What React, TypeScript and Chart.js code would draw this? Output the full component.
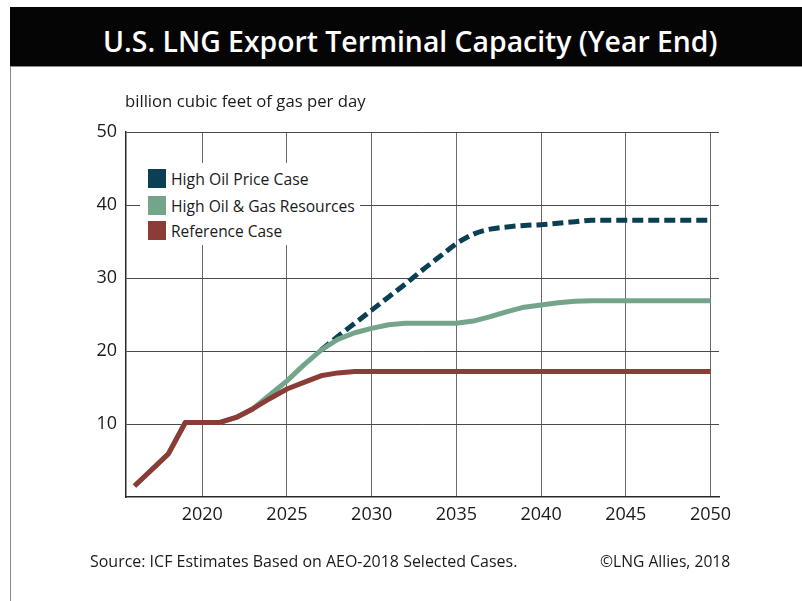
import React, { useEffect, useLayoutEffect, useRef, useState } from "react";
import { Chart, registerables } from "chart.js";

Chart.register(...registerables);

// ---------- DATA ----------
const YEARS = [
  2016, 2017, 2018, 2019, 2020, 2021, 2022, 2023, 2024, 2025, 2026, 2027,
  2028, 2029, 2030, 2031, 2032, 2033, 2034, 2035, 2036, 2037, 2038, 2039,
  2040, 2041, 2042, 2043, 2044, 2045, 2046, 2047, 2048, 2049, 2050,
];
const REFERENCE_CASE = [
  1.5, 3.7, 5.9, 10.2, 10.2, 10.2, 10.9, 12.1, 13.5, 14.8, 15.7, 16.6,
  17.0, 17.2, 17.2, 17.2, 17.2, 17.2, 17.2, 17.2, 17.2, 17.2, 17.2, 17.2,
  17.2, 17.2, 17.2, 17.2, 17.2, 17.2, 17.2, 17.2, 17.2, 17.2, 17.2,
];
const HIGH_OIL_GAS_RESOURCES = [
  1.5, 3.7, 5.9, 10.2, 10.2, 10.2, 10.9, 12.1, 14.0, 15.9, 18.1, 20.1,
  21.6, 22.5, 23.1, 23.6, 23.8, 23.8, 23.8, 23.8, 24.1, 24.7, 25.4, 26.0,
  26.3, 26.6, 26.8, 26.9, 26.9, 26.9, 26.9, 26.9, 26.9, 26.9, 26.9,
];
const HIGH_OIL_PRICE = [
  null, null, null, null, null, null, null, null, null, null, null, 20.1,
  22.0, 23.8, 25.6, 27.4, 29.2, 31.1, 32.9, 34.7, 36.0, 36.7, 37.0, 37.2,
  37.3, 37.5, 37.7, 37.9, 37.9, 37.9, 37.9, 37.9, 37.9, 37.9, 37.9,
];
const X_TICKS = [2020, 2025, 2030, 2035, 2040, 2045, 2050];
const Y_TICKS = [10, 20, 30, 40, 50];

const SERIES_NAMES = ["High Oil Price Case", "High Oil & Gas Resources", "Reference Case"];
const SERIES_COLORS = ["#0b3f54", "#74a58b", "#8b3c37"];

const TITLE = "U.S. LNG Export Terminal Capacity (Year End)";
const Y_LABEL = "billion cubic feet of gas per day";
const SOURCE = "Source: ICF Estimates Based on AEO-2018 Selected Cases.";
const COPYRIGHT = "\u00A9LNG Allies, 2018";

const FONT = "'Open Sans', 'Noto Sans', sans-serif";

function FitText(props: {
  text: string;
  left: number;
  cy: number;
  width: number;
  size: number;
  weight?: number;
  color?: string;
}) {
  const ref = useRef<HTMLSpanElement | null>(null);
  const [scale, setScale] = useState(1);
  useLayoutEffect(() => {
    const measure = () => {
      const el = ref.current;
      if (!el) return;
      const w = el.offsetWidth;
      if (w > 0) setScale(props.width / w);
    };
    measure();
    if ((document as any).fonts && (document as any).fonts.ready) {
      (document as any).fonts.ready.then(measure);
    }
  }, [props.text, props.width, props.size]);
  const lh = Math.round(props.size * 1.4);
  return (
    <div
      style={{
        position: "absolute",
        left: props.left,
        top: props.cy - lh / 2,
        height: lh,
        lineHeight: lh + "px",
        whiteSpace: "nowrap",
        fontFamily: FONT,
        fontSize: props.size,
        fontWeight: props.weight || 400,
        color: props.color || "#1a1a1a",
        zIndex: 3,
      }}
    >
      <span
        ref={ref}
        style={{
          display: "inline-block",
          transform: `scaleX(${scale})`,
          transformOrigin: "0 50%",
        }}
      >
        {props.text}
      </span>
    </div>
  );
}

export default function App() {
  const canvasRef = useRef<HTMLCanvasElement | null>(null);

  useEffect(() => {
    const canvas = canvasRef.current;
    if (!canvas) return;
    const pts = (arr: (number | null)[]) =>
      YEARS.map((x, i) => ({ x, y: arr[i] }));
    const chart = new Chart(canvas, {
      type: "line",
      data: {
        datasets: [
          {
            label: SERIES_NAMES[2],
            data: pts(REFERENCE_CASE) as any,
            borderColor: SERIES_COLORS[2],
            backgroundColor: SERIES_COLORS[2],
            borderWidth: 5,
            pointRadius: 0,
            tension: 0,
            borderJoinStyle: "round",
            fill: false,
          },
          {
            label: SERIES_NAMES[1],
            data: pts(HIGH_OIL_GAS_RESOURCES) as any,
            borderColor: SERIES_COLORS[1],
            backgroundColor: SERIES_COLORS[1],
            borderWidth: 5,
            pointRadius: 0,
            tension: 0,
            borderJoinStyle: "round",
            fill: false,
          },
          {
            label: SERIES_NAMES[0],
            data: pts(HIGH_OIL_PRICE) as any,
            borderColor: SERIES_COLORS[0],
            backgroundColor: SERIES_COLORS[0],
            borderWidth: 5,
            borderDash: [11, 5],
            pointRadius: 0,
            cubicInterpolationMode: "monotone",
            fill: false,
            spanGaps: false,
          },
        ],
      },
      options: {
        responsive: false,
        animation: false,
        layout: { padding: { left: 0, top: 132, right: 83, bottom: 0 } },
        plugins: {
          legend: { display: false },
          tooltip: { enabled: false },
          title: { display: false },
        },
        scales: {
          x: {
            type: "linear",
            min: 2015.5,
            max: 2050.5,
            afterBuildTicks: (s: any) => {
              s.ticks = X_TICKS.map((v) => ({ value: v }));
            },
            afterFit: (s: any) => {
              s.height = 104;
            },
            grid: { color: "#6a6a6a", lineWidth: 1, drawTicks: false },
            border: { display: true, color: "#2a2a2a", width: 1.5 },
            ticks: {
              autoSkip: false,
              maxRotation: 0,
              padding: 7,
              color: "#1a1a1a",
              font: { family: FONT, size: 18 },
              callback: (v: any) => String(v),
            },
          },
          y: {
            type: "linear",
            min: 0,
            max: 50,
            afterBuildTicks: (s: any) => {
              s.ticks = Y_TICKS.map((v) => ({ value: v }));
            },
            afterFit: (s: any) => {
              s.width = 126;
            },
            grid: { color: "#4a4a4a", lineWidth: 1, drawTicks: false },
            border: { display: true, color: "#2a2a2a", width: 1.5 },
            ticks: {
              padding: 9,
              color: "#1a1a1a",
              font: { family: FONT, size: 18 },
              callback: (v: any) => String(v),
            },
          },
        },
      },
    });
    return () => chart.destroy();
  }, []);

  const legendTops = [169, 196, 221];
  const legendWidths = [138, 184, 111];

  return (
    <div
      style={{
        position: "absolute",
        left: 0,
        top: 0,
        width: 802,
        height: 601,
        background: "#fff",
        overflow: "hidden",
      }}
    >
      <canvas
        ref={canvasRef}
        width={802}
        height={601}
        style={{ position: "absolute", left: 0, top: 0, width: 802, height: 601, zIndex: 1 }}
      />
      {/* title bar */}
      <div
        style={{
          position: "absolute",
          left: 10,
          top: 7,
          width: 792,
          height: 59,
          background: "#050505",
          borderBottom: "1px solid #8a8a8a",
          zIndex: 2,
        }}
      />
      {/* left frame line */}
      <div
        style={{
          position: "absolute",
          left: 10,
          top: 67,
          width: 1,
          height: 534,
          background: "#8a8a8a",
          zIndex: 2,
        }}
      />
      <FitText text={TITLE} left={103} cy={40} width={614} size={29} weight={600} color="#ffffff" />
      <FitText text={Y_LABEL} left={125} cy={101} width={241} size={16} />
      {/* legend */}
      <div
        style={{
          position: "absolute",
          left: 140,
          top: 163,
          width: 220,
          height: 82,
          background: "#fff",
          zIndex: 2,
        }}
      />
      {SERIES_NAMES.map((name, i) => (
        <React.Fragment key={name}>
          <div
            style={{
              position: "absolute",
              left: 148,
              top: legendTops[i],
              width: 18,
              height: 19,
              background: SERIES_COLORS[i],
              zIndex: 3,
            }}
          />
          <FitText text={name} left={171} cy={legendTops[i] + 9.5} width={legendWidths[i]} size={17} />
        </React.Fragment>
      ))}
      <FitText text={SOURCE} left={90} cy={561} width={427} size={16} />
      <FitText text={COPYRIGHT} left={600} cy={561} width={130} size={16} />
    </div>
  );
}
